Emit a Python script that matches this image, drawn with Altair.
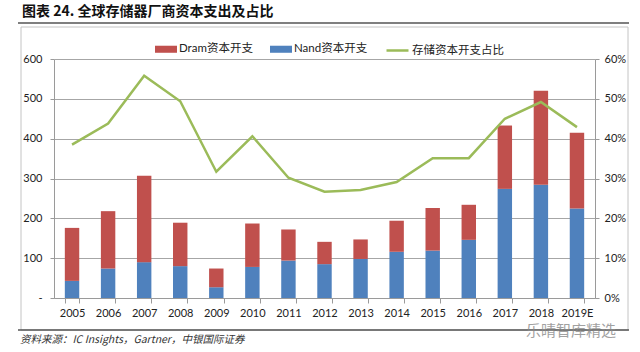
import altair as alt
import pandas as pd

years = ['2005', '2006', '2007', '2008', '2009', '2010', '2011', '2012',
         '2013', '2014', '2015', '2016', '2017', '2018', '2019E']
nand = [43, 74, 90, 80, 27, 78, 94, 85, 98, 116, 119, 146, 274, 284, 225]
dram = [133, 144, 217, 109, 47, 109, 78, 56, 49, 78, 107, 88, 159, 236, 190]
share = [38.5, 43.8, 55.8, 49.4, 31.7, 40.6, 30.2, 26.7, 27.1, 29.1, 35.1, 35.1, 45.0, 49.2, 42.9]

series_bar = ['Dram资本开支', 'Nand资本开支']
series_line = '存储资本开支占比'
colors_bar = ['#C0504D', '#4F81BD']
color_line = '#9BBB59'

rows = []
for i, y in enumerate(years):
    rows.append({'year': y, 'series': 'Nand资本开支', 'value': nand[i], 'ord': 0})
    rows.append({'year': y, 'series': 'Dram资本开支', 'value': dram[i], 'ord': 1})
bar_df = pd.DataFrame(rows)
line_df = pd.DataFrame({'year': years, 'share': share, 'lseries': [series_line] * len(years)})

FONT = 'Lato, Noto Sans CJK SC'
GRAY = '#9A9A9A'

xenc = alt.X('year:N', sort=years, title=None,
             scale=alt.Scale(paddingInner=0.6, paddingOuter=0.3),
             axis=alt.Axis(labelAngle=0, tickBand='extent', tickSize=5, labelPadding=4,
                           domainColor=GRAY, tickColor=GRAY, labelFontSize=11,
                           labelColor='#222', labelFont=FONT))

bars = alt.Chart(bar_df).mark_bar().encode(
    x=xenc,
    y=alt.Y('value:Q', stack='zero', title=None,
            scale=alt.Scale(domain=[0, 600], nice=False),
            axis=alt.Axis(values=[0, 100, 200, 300, 400, 500, 600], tickSize=4, labelPadding=8,
                          domainColor=GRAY, tickColor=GRAY, gridColor='#A6A6A6',
                          labelExpr="datum.value == 0 ? '-' : datum.label",
                          labelFontSize=11, labelColor='#222', labelFont=FONT)),
    color=alt.Color('series:N', scale=alt.Scale(domain=series_bar, range=colors_bar),
                    legend=alt.Legend(orient='none', legendX=101, legendY=-21, direction='horizontal',
                                      columns=2, title=None, symbolType='M-1,-0.32H1V0.32H-1Z',
                                      symbolSize=484, symbolStrokeWidth=0, labelOffset=2,
                                      columnPadding=17, labelFontSize=11.5, labelFont=FONT,
                                      labelColor='#222', symbolOpacity=1)),
    order=alt.Order('ord:Q', sort='ascending'),
)

line = alt.Chart(line_df).mark_line(strokeWidth=2.5).encode(
    x=alt.X('year:N', sort=years),
    y=alt.Y('share:Q', title=None, scale=alt.Scale(domain=[0, 60], nice=False),
            axis=alt.Axis(orient='right', values=[0, 10, 20, 30, 40, 50, 60], grid=False,
                          tickSize=4, labelPadding=5, domainColor=GRAY, tickColor=GRAY,
                          labelExpr="datum.value + '%'", labelFontSize=11,
                          labelColor='#222', labelFont=FONT)),
    stroke=alt.Stroke('lseries:N', scale=alt.Scale(domain=[series_line], range=[color_line]),
                      legend=alt.Legend(orient='none', legendX=331, legendY=-21, title=None,
                                        symbolType='stroke', symbolSize=484, symbolStrokeWidth=2.5,
                                        labelOffset=2, labelFontSize=11.5, labelFont=FONT,
                                        labelColor='#222')),
)

one = alt.Data(values=[{}])
frame = alt.Chart(one).mark_rect(fillOpacity=0, stroke='#C4C4C4', strokeWidth=1).encode(
    x=alt.value(-33), x2=alt.value(574), y=alt.value(-32), y2=alt.value(271))
top_rule = alt.Chart(one).mark_rule(color='#555', strokeWidth=1.5).encode(
    x=alt.value(-36), x2=alt.value(575), y=alt.value(-36))
bottom_rule = alt.Chart(one).mark_rule(color='#555', strokeWidth=1.5).encode(
    x=alt.value(-36), x2=alt.value(575), y=alt.value(271))
source = alt.Chart(one).mark_text(text='资料来源：IC Insights，Gartner，中银国际证券', align='left',
                                  baseline='middle', fontSize=10.5, fontStyle='italic',
                                  font='Noto Sans CJK SC', color='#333').encode(
    x=alt.value(-34), y=alt.value(281))
watermark = alt.Chart(one).mark_text(text='乐晴智库精选', align='left', baseline='middle',
                                     fontSize=15, font='Noto Sans CJK SC', color='#8A8A8A',
                                     opacity=0.8).encode(
    x=alt.value(472), y=alt.value(272))

chart = alt.layer(bars, line, frame, top_rule, bottom_rule, source, watermark).resolve_scale(
    y='independent').properties(
    width=541, height=239,
    autosize=alt.AutoSizeParams(type='none'),
    padding={'left': 54, 'top': 59, 'right': 45, 'bottom': 54},
    title=alt.TitleParams('图表 24. 全球存储器厂商资本支出及占比', anchor='start', frame='group',
                          dx=-32, offset=3, fontSize=14, fontWeight='bold',
                          font='Noto Sans CJK SC', color='#111'),
).configure_view(strokeWidth=0)

chart.save("out.html", embed_options={"renderer": "svg", "actions": False})
